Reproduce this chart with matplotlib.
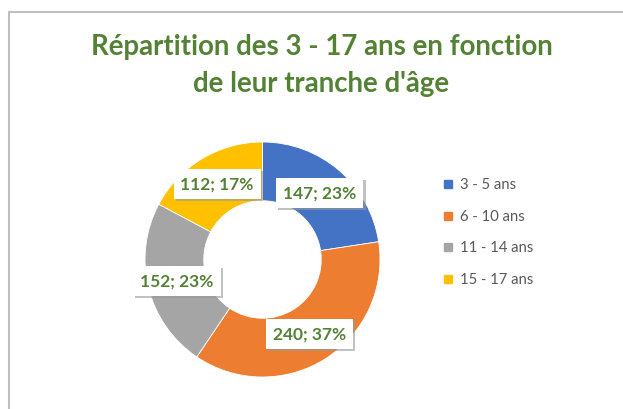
import matplotlib.pyplot as plt
from matplotlib.lines import Line2D
import matplotlib.patheffects as pe
import numpy as np

# Data
labels = ['3 - 5 ans', '6 - 10 ans', '11 - 14 ans', '15 - 17 ans']
values = [147, 240, 152, 112]
colors = ['#4472C4', '#ED7D31', '#A5A5A5', '#FFC000']
green = '#548235'

W, H = 623, 410
fig = plt.figure(figsize=(W / 100, H / 100), dpi=100)
plt.rcParams['font.family'] = ['Lato', 'DejaVu Sans']

# chart frame (light grey border, left and top visible)
fig.add_artist(Line2D([8.5 / W, 8.5 / W], [0, 1 - 12.5 / H], color='#BFBFBF', lw=1.5))
fig.add_artist(Line2D([8.5 / W, 1], [1 - 12.5 / H, 1 - 12.5 / H], color='#BFBFBF', lw=1.5))

# title
fig.text(321.5 / W, 1 - 47 / H, "Répartition des 3 - 17 ans en fonction",
         ha='center', va='center', fontsize=19.9, fontweight='bold', color=green)
fig.text(321.5 / W, 1 - 84 / H, "de leur tranche d'âge",
         ha='center', va='center', fontsize=19.9, fontweight='bold', color=green)

# donut axes: center (262.5, 260.5), radius 117.5 px
r = 117.5
ax = fig.add_axes([(262.5 - r) / W, 1 - (260.5 + r) / H, 2 * r / W, 2 * r / H])
total = sum(values)
wedges, _ = ax.pie(values, colors=colors, startangle=90, counterclock=False,
                   radius=1.0, wedgeprops=dict(width=0.5, edgecolor='white', linewidth=0.6))
ax.set_xlim(-1, 1)
ax.set_ylim(-1, 1)
ax.set_aspect('equal')
ax.axis('off')

ang = 90.0
for v in values:
    span = 360.0 * v / total
    mid = np.deg2rad(ang - span / 2)
    ang -= span
    x, y = 0.75 * np.cos(mid), 0.75 * np.sin(mid)
    ax.text(x, y, f"{v}; {round(100 * v / total)}%", ha='center', va='center',
            fontsize=12.5, fontweight='bold', color=green,
            bbox=dict(boxstyle='square,pad=0.4', fc='white', ec='none',
                      path_effects=[pe.withSimplePatchShadow(offset=(1.5, -1.5), shadow_rgbFace='#999999', alpha=0.6)]))

# legend
for i, (lab, c) in enumerate(zip(labels, colors)):
    yp = 185 + i * 31.7
    fig.patches.append(plt.Rectangle(((448 - 4) / W, 1 - (yp + 4) / H), 8 / W, 8 / H,
                                     transform=fig.transFigure, color=c, figure=fig))
    fig.text(460 / W, 1 - yp / H, lab, ha='left', va='center', fontsize=10.7, color='#595959')

fig.savefig('out.png', dpi=100)
